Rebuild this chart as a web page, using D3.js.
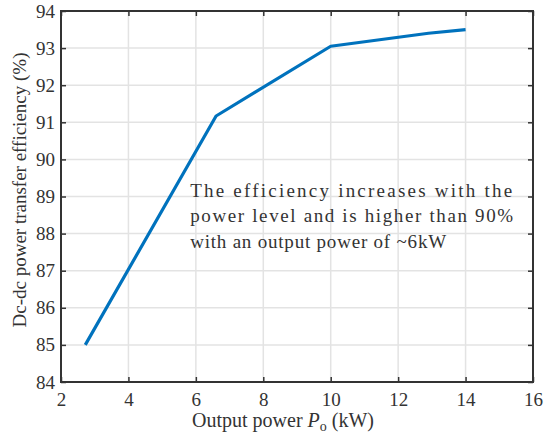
<!DOCTYPE html>
<html>
<head>
<meta charset="utf-8">
<script src="https://cdn.jsdelivr.net/npm/d3@7"></script>
<style>
  body { margin: 0; background: #fff; }
  svg text { font-family: "Liberation Serif", "Times New Roman", serif; fill: #333; }
</style>
</head>
<body>
<svg id="chart" width="544" height="439"></svg>
<script>
// data
var powerKW = [2.72, 6.6, 10, 12.9, 14];
var efficiency = [85, 91.17, 93.05, 93.4, 93.5];
var xTicks = [2, 4, 6, 8, 10, 12, 14, 16];
var yTicks = [84, 85, 86, 87, 88, 89, 90, 91, 92, 93, 94];
var note = [
    'The efficiency increases with the',
    'power level and is higher than 90%',
    'with an output power of ~6kW'
];

var serif = '"Liberation Serif", "Times New Roman", serif';
var margin = {left: 61, top: 11, right: 11, bottom: 57};
var svg = d3.select('#chart');
var width = +svg.attr('width') - margin.left - margin.right;
var height = +svg.attr('height') - margin.top - margin.bottom;

var x = d3.scaleLinear().domain([2, 16]).range([0, width]);
var y = d3.scaleLinear().domain([84, 94]).range([height, 0]);

var g = svg.append('g')
    .attr('transform', 'translate(' + margin.left + ',' + margin.top + ')');

// grid
g.append('g').selectAll('line')
    .data(xTicks.slice(1, -1))
    .enter().append('line')
    .attr('x1', d => x(d)).attr('x2', d => x(d))
    .attr('y1', 0).attr('y2', height)
    .attr('stroke', '#e3e3e3').attr('stroke-width', 1.5);

g.append('g').selectAll('line')
    .data(yTicks.slice(1, -1))
    .enter().append('line')
    .attr('y1', d => y(d)).attr('y2', d => y(d))
    .attr('x1', 0).attr('x2', width)
    .attr('stroke', '#e3e3e3').attr('stroke-width', 1.5);

// axes
function styleAxis(sel) {
    sel.attr('font-family', serif).attr('font-size', 19);
    sel.select('.domain').remove();
    sel.selectAll('.tick line').attr('stroke', '#333').attr('stroke-width', 1.5);
    sel.selectAll('.tick text').attr('fill', '#333');
}

var xAxis = d3.axisBottom(x).tickValues(xTicks).tickSize(-5).tickPadding(11).tickFormat(d3.format('d'));
var yAxis = d3.axisLeft(y).tickValues(yTicks).tickSize(-5).tickPadding(6).tickFormat(d3.format('d'));

g.append('g').attr('transform', 'translate(0,' + height + ')').call(xAxis).call(styleAxis);
g.append('g').call(yAxis).call(styleAxis);
g.append('g').call(d3.axisTop(x).tickValues(xTicks).tickSize(-5).tickFormat(''))
    .call(styleAxis);
g.append('g').attr('transform', 'translate(' + width + ',0)')
    .call(d3.axisRight(y).tickValues(yTicks).tickSize(-5).tickFormat(''))
    .call(styleAxis);

// box
g.append('path')
    .attr('d', 'M0,0H' + width + 'V' + height + 'H0Z')
    .attr('fill', 'none').attr('stroke', '#333').attr('stroke-width', 2);

// curve
var line = d3.line()
    .x((d, i) => x(powerKW[i]))
    .y(d => y(d));

g.append('path')
    .datum(efficiency)
    .attr('d', line)
    .attr('fill', 'none')
    .attr('stroke', '#0072BD')
    .attr('stroke-width', 3.2)
    .attr('stroke-linejoin', 'round');

// annotation
var noteWidths = [322, 323, 256];
g.append('g').selectAll('text')
    .data(note)
    .enter().append('text')
    .attr('x', x(5.83))
    .attr('y', (d, i) => y(88.99) + i * 25.5)
    .attr('textLength', (d, i) => noteWidths[i])
    .attr('lengthAdjust', 'spacing')
    .attr('font-family', serif)
    .attr('font-size', 19)
    .text(d => d);

// axis labels
var xl = svg.append('text')
    .attr('x', 283)
    .attr('y', 427)
    .attr('text-anchor', 'middle')
    .attr('font-family', serif)
    .attr('font-size', 20);
xl.append('tspan').text('Output power ');
xl.append('tspan').style('font-style', 'italic').text('P');
xl.append('tspan').attr('dy', 4).attr('font-size', 14).text('o');
xl.append('tspan').attr('dy', -4).text(' (kW)');

svg.append('text')
    .attr('transform', 'translate(26,190) rotate(-90)')
    .attr('text-anchor', 'middle')
    .attr('font-family', serif)
    .attr('font-size', 19)
    .text('Dc-dc power transfer efficiency (%)');
</script>
</body>
</html>
